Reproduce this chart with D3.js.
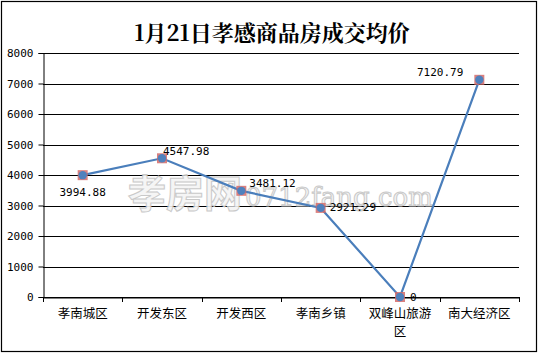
<!DOCTYPE html>
<html>
<head>
<meta charset="utf-8">
<script src="https://cdn.jsdelivr.net/npm/d3@7"></script>
<style>
  body { margin: 0; background: #fff; }
</style>
</head>
<body>
<svg id="chart"></svg>
<script>
// chart data
const categories = ["孝南城区", "开发东区", "开发西区", "孝南乡镇", "双峰山旅游区", "南大经济区"];
const prices = [3994.88, 4547.98, 3481.12, 2921.29, 0, 7120.79];
const priceLabels = ["3994.88", "4547.98", "3481.12", "2921.29", "0", "7120.79"];
const yTicks = [0, 1000, 2000, 3000, 4000, 5000, 6000, 7000, 8000];

// sizes
const width = 539, height = 354;
const margin = {top: 53, right: 20, bottom: 57, left: 43};

const svg = d3.select("#chart").attr("width", width).attr("height", height);

// outer border
svg.append("rect")
  .attr("x", 1.5).attr("y", 1.5)
  .attr("width", width - 4).attr("height", height - 4)
  .attr("fill", "#fff").attr("stroke", "#000").attr("stroke-width", 1.2);

// title
svg.append("text")
  .attr("x", 272).attr("y", 41)
  .attr("text-anchor", "middle")
  .style("font-family", "'Noto Serif CJK SC', 'Noto Sans CJK SC', serif")
  .style("font-weight", "bold")
  .style("font-size", "22px")
  .text("1月21日孝感商品房成交均价");

const x = d3.scaleBand()
  .domain(categories)
  .range([margin.left, width - margin.right]);

const y = d3.scaleLinear()
  .domain([0, 8000])
  .range([height - margin.bottom, margin.top]);

// grid lines
svg.append("g")
  .selectAll("line")
  .data(yTicks)
  .join("line")
    .attr("x1", margin.left).attr("x2", width - margin.right)
    .attr("y1", d => Math.round(y(d)) + 0.5).attr("y2", d => Math.round(y(d)) + 0.5)
    .attr("stroke", "#000").attr("stroke-width", 1);

// watermark
const wm = svg.append("g").attr("opacity", 0.9);
wm.append("text")
  .attr("x", 128).attr("y", 207)
  .style("font-family", "'Noto Sans CJK SC', sans-serif")
  .style("font-weight", "bold")
  .style("font-size", "38px")
  .attr("fill", "#f4f4f4").attr("stroke", "#c4c4c4").attr("stroke-width", 1)
  .text("孝房网");
wm.append("text")
  .attr("x", 245).attr("y", 206)
  .style("font-family", "'DejaVu Serif', serif")
  .style("font-size", "26px")
  .attr("fill", "#f4f4f4").attr("stroke", "#c4c4c4").attr("stroke-width", 1)
  .text("0712fang.com");

// y axis
const yAxis = svg.append("g")
  .attr("transform", `translate(${margin.left + 0.5},0)`)
  .call(d3.axisLeft(y).tickValues(yTicks).tickSize(5).tickPadding(5).tickFormat(d3.format("d")));
yAxis.select(".domain").attr("stroke", "#000");
yAxis.selectAll("text")
  .style("font-family", "'DejaVu Sans Mono', monospace")
  .style("font-size", "11px")
  .attr("fill", "#000");

// x axis
const xAxis = svg.append("g")
  .attr("transform", `translate(0,${Math.round(y(0)) + 0.5})`)
  .call(d3.axisBottom(x).tickSize(0).tickPadding(10).tickFormat(""));
xAxis.select(".domain").attr("stroke", "#000");

// category ticks at band edges
const edges = categories.map(c => x(c)).concat([x.range()[1]]);
svg.append("g")
  .selectAll("line")
  .data(edges)
  .join("line")
    .attr("x1", d => Math.round(d) + 0.5).attr("x2", d => Math.round(d) + 0.5)
    .attr("y1", y(0)).attr("y2", y(0) + 5)
    .attr("stroke", "#000");

// category labels (wrap long label)
const catLabels = svg.append("g")
  .selectAll("text")
  .data(categories)
  .join("text")
    .attr("x", d => x(d) + x.bandwidth() / 2)
    .attr("y", y(0) + 21)
    .attr("text-anchor", "middle")
    .style("font-family", "'Noto Sans CJK SC', sans-serif")
    .style("font-size", "12.5px")
    .attr("fill", "#000");
catLabels.each(function(d) {
  const t = d3.select(this);
  if (d.length > 5) {
    t.append("tspan").attr("x", x(d) + x.bandwidth() / 2).text(d.slice(0, 5));
    t.append("tspan").attr("x", x(d) + x.bandwidth() / 2).attr("dy", 18).text(d.slice(5));
  } else {
    t.text(d);
  }
});

// line
const cx = d => x(d) + x.bandwidth() / 2;
const line = d3.line()
  .x((d, i) => cx(categories[i]))
  .y(d => y(d));

svg.append("path")
  .datum(prices)
  .attr("fill", "none")
  .attr("stroke", "#4a7ebb")
  .attr("stroke-width", 2.2)
  .attr("d", line);

// markers
const pts = svg.append("g")
  .selectAll("g")
  .data(prices)
  .join("g")
    .attr("transform", (d, i) => `translate(${cx(categories[i])},${y(d)})`);
pts.append("rect")
  .attr("x", -5).attr("y", -5).attr("width", 10).attr("height", 10)
  .attr("fill", "#d36a68").attr("opacity", 0.85);
pts.append("circle")
  .attr("r", 4.2)
  .attr("fill", "#4f81bd");

// data labels
const labelOffsets = [[0, 21, "middle"], [1, -3, "start"], [8, -4, "start"], [9, 3, "start"], [10, 4, "start"], [-16, -4, "end"]];
svg.append("g")
  .selectAll("text")
  .data(prices)
  .join("text")
    .attr("x", (d, i) => cx(categories[i]) + labelOffsets[i][0])
    .attr("y", (d, i) => y(d) + labelOffsets[i][1])
    .attr("text-anchor", (d, i) => labelOffsets[i][2])
    .style("font-family", "'DejaVu Sans Mono', monospace")
    .style("font-size", "11px")
    .attr("fill", "#000")
    .text((d, i) => priceLabels[i]);
</script>
</body>
</html>
